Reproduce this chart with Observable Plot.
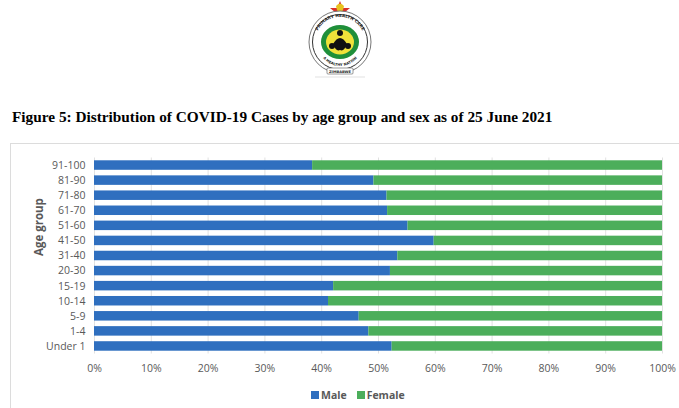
<!DOCTYPE html>
<html>
<head>
<meta charset="utf-8">
<script src="https://cdn.jsdelivr.net/npm/d3@7"></script>
<script src="https://cdn.jsdelivr.net/npm/@observablehq/plot@0.6"></script>
<style>
  html, body { margin: 0; padding: 0; background: #fff; width: 679px; height: 408px; overflow: hidden; }
  #logo { position: absolute; left: 300px; top: 0px; }
  #title { position: absolute; left: 12px; top: 108px; font: bold 15.3px "Liberation Serif", "Times New Roman", serif; color: #000; white-space: nowrap; }
  #box { position: absolute; left: 10px; top: 143px; width: 680px; height: 270px; border: 1px solid #dcdcdc; box-sizing: border-box; }
  #chart { position: absolute; left: 10px; top: 143px; }
  #legend { position: absolute; left: 311px; top: 388px; font: bold 10.5px "Liberation Sans Narrow", "Open Sans", sans-serif; color: #595959; display: flex; gap: 10px; align-items: center; }
  #legend span.sw { display: inline-block; width: 8px; height: 8px; margin-right: 2px; }
</style>
</head>
<body>
<svg id="logo" width="80" height="78" viewBox="0 0 80 78">
  <polygon points="40,1 43,8 50,8 44.5,12.5 46.5,19 40,15 33.5,19 35.5,12.5 30,8 37,8" fill="#d8312a"/>
  <path d="M36,6 q4,-5 8,0 q-1,6 -4,8 q-3,-2 -4,-8z" fill="#e8c21e"/>
  <circle cx="40" cy="42" r="31" fill="#fff" stroke="#777" stroke-width="1"/>
  <circle cx="40" cy="42" r="27.5" fill="none" stroke="#333" stroke-width="1"/>
  <ellipse cx="40" cy="42" rx="19" ry="17" fill="#1f8f3a"/>
  <ellipse cx="40" cy="42" rx="14" ry="12.5" fill="#f0e23a"/>
  <circle cx="40" cy="33" r="3" fill="#111"/>
  <path d="M33,44 q7,-12 14,0 q-3,8 -7,6 q-4,2 -7,-6z" fill="#111"/>
  <circle cx="32" cy="46" r="3" fill="#111"/>
  <circle cx="48" cy="46" r="3" fill="#111"/>
  <defs><path id="arcTop" d="M15,42 a25,25 0 0 1 50,0"/><path id="arcBot" d="M18,44 a22,22 0 0 0 44,0"/></defs>
  <text font-family="DejaVu Sans" font-size="4.2" font-weight="bold" fill="#222"><textPath href="#arcTop" startOffset="50%" text-anchor="middle">PRIMARY HEALTH CARE</textPath></text>
  <text font-family="DejaVu Sans" font-size="3.6" font-weight="bold" fill="#222"><textPath href="#arcBot" startOffset="50%" text-anchor="middle">A HEALTHY NATION</textPath></text>
  <rect x="27" y="68" width="26" height="6" rx="1" fill="#fff" stroke="#555" stroke-width="0.6"/>
  <text x="40" y="72.5" font-family="DejaVu Sans" font-size="3.6" font-weight="bold" text-anchor="middle" fill="#222">ZIMBABWE</text>
  <line x1="15" y1="77" x2="65" y2="77" stroke="#ccc" stroke-width="0.6"/>
</svg>
<div id="title">Figure 5: Distribution of COVID-19 Cases by age group and sex as of 25 June 2021</div>
<div id="box"></div>
<div id="chart"></div>
<div id="legend">
  <span><span class="sw" style="background:#2f6fbf"></span>Male</span>
  <span><span class="sw" style="background:#4cae5b"></span>Female</span>
</div>
<script>
const ageGroups = ["91-100","81-90","71-80","61-70","51-60","41-50","31-40","20-30","15-19","10-14","5-9","1-4","Under 1"];
const malePct   = [38.4, 49.2, 51.5, 51.6, 55.2, 59.8, 53.4, 52.1, 42.1, 41.2, 46.6, 48.3, 52.4];
const femalePct = malePct.map(m => 100 - m);
const sexes = ["Male", "Female"];
const sexColors = ["#2f6fbf", "#4cae5b"];
const xTicks = [0,10,20,30,40,50,60,70,80,90,100];

const rows = [];
ageGroups.forEach((g, i) => {
  rows.push({age: g, sex: "Male", value: malePct[i]});
  rows.push({age: g, sex: "Female", value: femalePct[i]});
});

const font = '"Liberation Sans Narrow", "Open Sans", sans-serif';
const chart = Plot.plot({
  width: 669,
  height: 236,
  marginLeft: 84,
  marginRight: 17,
  marginTop: 14.5,
  marginBottom: 25.5,
  style: {fontFamily: font, fontSize: "10.5px", color: "#595959", background: "transparent", overflow: "visible"},
  x: {domain: [0, 100], ticks: xTicks, tickFormat: d => d + "%"},
  y: {domain: ageGroups, paddingInner: 0.37, paddingOuter: 0.185, round: false},
  color: {domain: sexes, range: sexColors},
  marks: [
    Plot.ruleX(xTicks, {stroke: "#d9d9d9", strokeWidth: 0.8}),
    Plot.barX(rows, {y: "age", x: "value", fill: "sex"}),
    Plot.axisX({ticks: xTicks, tickSize: 0, tickPadding: 11, tickFormat: d => d + "%", label: null, fill: "#595959"}),
    Plot.axisY({tickSize: 0, tickPadding: 9, label: null, fill: "#595959"}),
    Plot.text(["Age group"], {frameAnchor: "left", dx: -55, rotate: -90, fontWeight: "bold", fontSize: 11.5, fill: "#595959"})
  ]
});
document.getElementById("chart").appendChild(chart);
</script>
</body>
</html>
